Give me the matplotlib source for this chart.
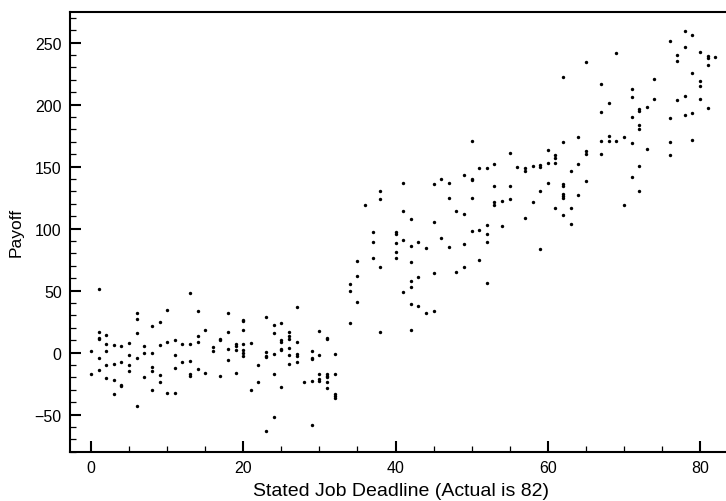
import matplotlib
matplotlib.use("Agg")
import matplotlib.pyplot as plt
from matplotlib.ticker import MultipleLocator

plt.rcParams['font.family'] = ['Liberation Sans', 'DejaVu Sans']

# stated deadline 0..32: payoff roughly flat around zero
deadline_low = [
    0, 0,
    1, 1, 1, 1, 1, 1,
    2, 2, 2, 2, 2,
    3, 3, 3, 3,
    4, 4, 4, 4,
    5, 5, 5, 5,
    6, 6, 6, 6, 6,
    7, 7, 7,
    8, 8, 8, 8, 8,
    9, 9, 9, 9,
    10, 10, 10,
    11, 11, 11, 11,
    12, 12,
    13, 13, 13, 13, 13,
    14, 14, 14, 14,
    15, 15,
    16, 16,
    17, 17, 17,
    18, 18, 18, 18,
    19, 19, 19, 19,
    20, 20, 20, 20, 20, 20, 20,
    21, 21,
    22, 22,
    23, 23, 23, 23, 23,
    24, 24, 24, 24, 24,
    25, 25, 25, 25, 25, 25,
    26, 26, 26, 26, 26, 26,
    27, 27, 27, 27, 27,
    28,
    29, 29, 29, 29, 29,
    30, 30, 30, 30, 30,
    31, 31, 31, 31, 31, 31, 31,
    32, 32, 32, 32, 32,
]
payoff_low = [
    1, -17,
    51, 16.5, 11.9, 11.3, -4.6, -14.3,
    13.8, 7, 1.4, -9.7, -20.8,
    6.2, -8.9, -22.1, -33.2,
    5.1, -7.8, -26.5, -27,
    8.1, -2.2, -10, -14.9,
    31.6, 27.3, 15.9, -4.6, -43.5,
    5.1, -0.3, -20,
    21.3, 0, -11.6, -15.1, -30.5,
    24.8, 6.2, -18.1, -23.8,
    34.6, 8.6, -32.9,
    10.3, -1.6, -12.2, -32.9,
    7, -7.6,
    48.3, 6.5, -7, -17.6, -18.9,
    33.8, 13, 8.4, -13.5,
    17.8, -16.2,
    4.6, 1.4,
    11.3, 10, -18.6,
    31.9, 16.5, 3, -5.7,
    7, 5.1, 1.9, -16.2,
    26.2, 25.7, 18.1, 6.8, 1.9, 0, -2.7,
    7.8, -30,
    -10.3, -23.5,
    28.6, 0.5, -2.7, -3.5, -63.7,
    22.1, 15.9, -1.1, -17, -52.4,
    23.5, 10, 8.6, 3.2, 2, -28.1,
    16.7, 13.2, 11.3, 3.5, -1.6, -9.5,
    36.5, 8.9, -1.1, -3, -7.6,
    -23.5,
    1.1, -4, -5.1, -23, -58.3,
    17, -2.2, -17.3, -21, -23.2,
    11.9, 10.8, -17.6, -18.9, -20, -24, -28.6,
    -1.1, -17.6, -33.2, -35.1, -36.5,
]

# stated deadline 34..82: payoff climbs with the deadline
deadline_high = [
    34, 34, 34,
    35, 35, 35,
    36,
    37, 37, 37,
    38, 38, 38, 38,
    40, 40, 40, 40, 40,
    41, 41, 41, 41,
    42, 42, 42, 42, 42, 42, 42,
    43, 43, 43,
    44, 44,
    45, 45, 45, 45,
    46, 46,
    47, 47, 47,
    48, 48,
    49, 49, 49, 49,
    50, 50, 50, 50, 50,
    51, 51, 51,
    52, 52, 52, 52, 52,
    53, 53, 53, 53,
    54, 54,
    55, 55, 55,
    56,
    57, 57, 57,
    58, 58,
    59, 59, 59, 59,
    60, 60, 60,
    61, 61, 61, 61,
    62, 62, 62, 62, 62, 62, 62, 62,
    63, 63, 63,
    64, 64, 64,
    65, 65, 65, 65,
    67, 67, 67, 67,
    68, 68, 68,
    69, 69,
    70, 70,
    71, 71, 71, 71, 71,
    72, 72, 72, 72, 72, 72,
    73, 73,
    74, 74,
    76, 76, 76, 76,
    77, 77, 77,
    78, 78, 78, 78,
    79, 79, 79, 79,
    80, 80, 80, 80,
    81, 81, 81, 81,
    82,
]
payoff_high = [
    55.6, 49.7, 23.5,
    73.6, 62, 40.5,
    119.2,
    97.1, 89.5, 76,
    130, 123.8, 69, 16.2,
    97.1, 95.4, 88.2, 81.2, 76,
    136.7, 114.1, 90.6, 48.8,
    107.9, 85.8, 73.3, 58, 53.1, 39.4, 17.8,
    89, 61, 37.2,
    84.1, 31.6,
    135.9, 105.7, 63.9, 33.4,
    140, 92.2,
    137, 124.9, 85.5,
    114.1, 65,
    142.9, 111.7, 87.6, 69,
    171, 140.2, 139.2, 124.3, 98.2,
    148.9, 98.7, 74.4,
    149.1, 103, 95.7, 89.3, 56.4,
    151.9, 134.6, 121.6, 118.9,
    122.2, 102.2,
    160.8, 134.6, 124.1,
    149.7,
    148.9, 146.4, 108.7,
    150.5, 121.1,
    151, 149.9, 130, 83.9,
    163.7, 152.7, 137,
    159.6, 156.7, 152.7, 116.8,
    222, 169.7, 135.9, 134, 127.6, 126, 124.6, 110.8,
    146.4, 116.8, 103.8,
    174.2, 151.9, 127.3,
    234.6, 162.6, 160.4, 138.3,
    216.8, 194.2, 170.4, 160.4,
    201.1, 174.5, 171,
    241.3, 170.7,
    173.9, 118.9,
    212.8, 205.8, 190.4, 168.8, 141.6,
    196.6, 194.7, 183.9, 180.2, 150.2, 130.5,
    198.5, 164,
    220.9, 204.7,
    251.6, 189.1, 170.2, 159.1,
    240.3, 234.9, 203.9,
    259.7, 246.8, 207.1, 191.7,
    255.9, 225.2, 193.1, 171.8,
    242.7, 219, 214.7, 204.7,
    239.2, 237.6, 231.7, 197.2,
    238.4,
]

x_ticks = [0, 20, 40, 60, 80]
y_ticks = [-50, 0, 50, 100, 150, 200, 250]

fig = plt.figure(figsize=(7.26, 5.02), dpi=100)
# axes runs a little past the right edge of the canvas, as in the original
ax = fig.add_axes([70 / 726, 1 - 452.7 / 502, 662 / 726, (452.7 - 12.7) / 502])

ax.scatter(deadline_low + deadline_high, payoff_low + payoff_high,
           s=6, c='black', linewidths=0)

ax.set_xlim(-2.76, 84.2)
ax.set_ylim(-80, 275)
ax.set_xticks(x_ticks)
ax.set_yticks(y_ticks)
ax.xaxis.set_minor_locator(MultipleLocator(5))
ax.yaxis.set_minor_locator(MultipleLocator(10))
ax.tick_params(which='both', direction='in', top=False, right=False,
               labelsize=11.5, pad=6)
ax.tick_params(which='major', length=8, width=1.5)
ax.tick_params(which='minor', length=4, width=0.9)
for side in ['left', 'bottom', 'top']:
    ax.spines[side].set_linewidth(1.5)
ax.spines['right'].set_visible(False)

ax.set_xlabel('Stated Job Deadline (Actual is 82)', fontsize=14, labelpad=5)
ax.set_ylabel('Payoff', fontsize=12.5, labelpad=8)

fig.savefig('out.png', dpi=100)
